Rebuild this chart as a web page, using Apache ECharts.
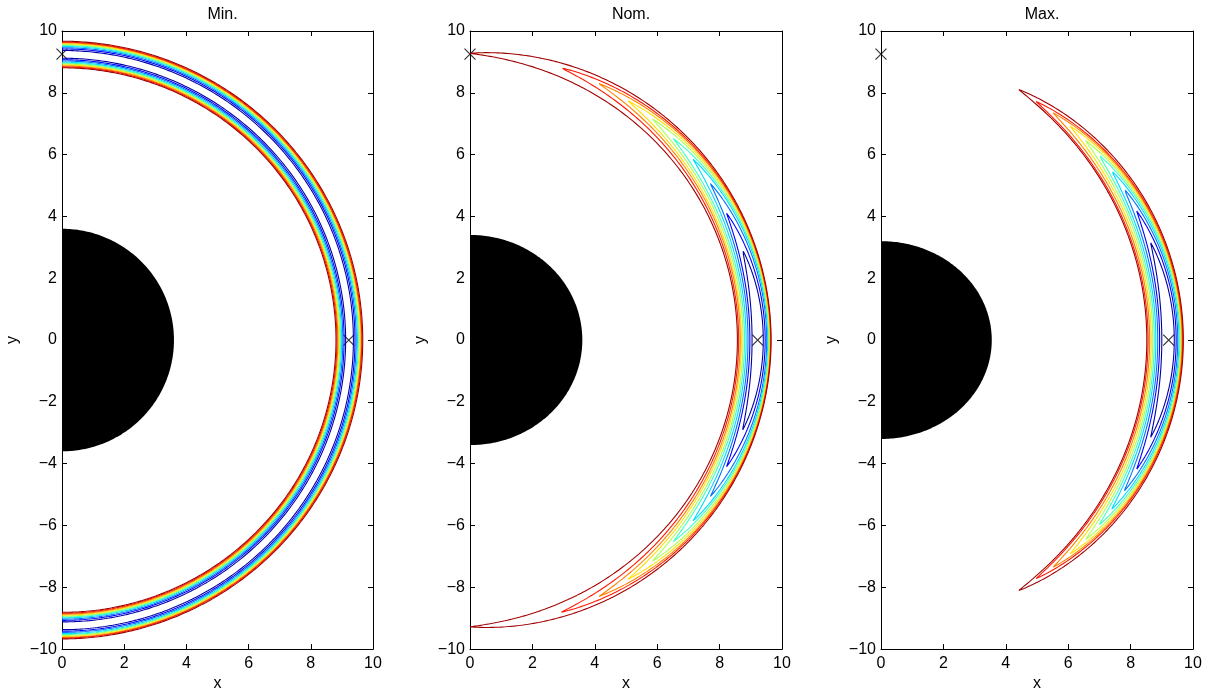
<!DOCTYPE html>
<html><head><meta charset="utf-8">
<script src="https://cdn.jsdelivr.net/npm/echarts@6/dist/echarts.min.js"></script>
<style>html,body{margin:0;padding:0;background:#fff}#c{width:1210px;height:697px}</style>
</head><body><div id="c"></div>
<script>
// ---------- data ----------
const panelTitles = ['Min.', 'Nom.', 'Max.'];
const xTicks = [0, 2, 4, 6, 8, 10];
const yTicks = [-10, -8, -6, -4, -2, 0, 2, 4, 6, 8, 10];
// contour levels, lowest (innermost) to highest (outermost), jet colours
const levelColors = ['#0000a8', '#0000ff', '#0070ff', '#00d8ff', '#40ffc0', '#a8ff58', '#ffe000', '#ff8000', '#ff1800', '#a00000'];
// Min.: every level is a pair of circular arcs (radius)
const minInnerR = [9.12, 9.07, 9.03, 8.99, 8.96, 8.93, 8.90, 8.87, 8.84, 8.81];
const minOuterR = [9.37, 9.42, 9.46, 9.50, 9.53, 9.56, 9.59, 9.62, 9.64, 9.67];
// Nom.: crescents - inner/outer radius on the x axis, tip angle (deg), tip radius
const nomInnerR = [9.04, 8.97, 8.91, 8.85, 8.80, 8.75, 8.70, 8.66, 8.61, 8.57];
const nomOuterR = [9.40, 9.46, 9.51, 9.54, 9.57, 9.59, 9.61, 9.63, 9.64, 9.65];
const nomTipDeg = [18.4, 26.5, 33.3, 39.3, 45.0, 50.7, 56.8, 63.5, 71.6, 90.0];
const nomTipR   = [9.21, 9.19, 9.22, 9.24, 9.22, 9.24, 9.25, 9.27, 9.28, 9.28];
// Max.: crescents
const maxInnerR = [9.00, 8.93, 8.87, 8.81, 8.76, 8.71, 8.66, 8.61, 8.56, 8.52];
const maxOuterR = [9.40, 9.46, 9.51, 9.55, 9.58, 9.61, 9.63, 9.65, 9.67, 9.69];
const maxTipDeg = [20.0, 27.0, 32.0, 36.5, 40.5, 44.5, 48.8, 53.1, 57.2, 61.4];
const maxTipR   = [9.20, 9.20, 9.20, 9.20, 9.20, 9.20, 9.20, 9.19, 9.18, 9.23];
// black half-ellipse (semi-axes along x and y)
const discRx = [3.6, 3.6, 3.55];
const discRy = [3.6, 3.4, 3.2];
// "x" markers
const markerX = [0, 9.22];
const markerY = [9.25, 0];

// ---------- layout ----------
const grids = [
  {left: 62, top: 31, width: 311, height: 621},
  {left: 470, top: 31, width: 312, height: 621},
  {left: 881, top: 31, width: 312, height: 621}
];
const FONT = 'Liberation Sans, Arial, Helvetica, sans-serif';
const rad = d => d * Math.PI / 180;

function arc(r) {
  const pts = [];
  for (let d = -90; d <= 90; d += 0.5) pts.push([r * Math.cos(rad(d)), r * Math.sin(rad(d))]);
  return pts;
}
// width profile of a crescent along its angle
function shape(d, tip) {
  const u = Math.min(1, Math.abs(d) / tip);
  return Math.pow(Math.max(0, 1 - u * u), 0.9);
}
function crescent(rIn, rOut, tip, rt) {
  const outer = [], inner = [];
  const n = Math.max(120, Math.round(tip * 8));
  for (let i = 0; i <= n; i++) {
    const d = -tip + 2 * tip * i / n;
    const s = shape(d, tip);
    const ro = rt + (rOut - rt) * s, ri = rt - (rt - rIn) * s;
    outer.push([ro * Math.cos(rad(d)), ro * Math.sin(rad(d))]);
    inner.push([ri * Math.cos(rad(d)), ri * Math.sin(rad(d))]);
  }
  return outer.concat(inner.reverse(), [outer[0]]);
}
function halfEllipse(rx, ry) {
  const pts = [];
  for (let d = -90; d <= 90; d += 1) pts.push([rx * Math.cos(rad(d)), ry * Math.sin(rad(d))]);
  return pts;
}

const fmt = v => (v < 0 ? '\u2212' + (-v) : String(v));
const xAxis = [], yAxis = [], series = [], title = [];
grids.forEach((g, i) => {
  const common = {
    gridIndex: i, type: 'value', splitLine: {show: false},
    axisLine: {show: true, onZero: false, lineStyle: {color: '#000', width: 1}},
    axisTick: {show: true, inside: true, length: 5, lineStyle: {color: '#000'}}
  };
  const lab = {show: true, color: '#000', fontSize: 16, fontFamily: FONT, formatter: fmt};
  xAxis.push(Object.assign({}, common, {position: 'bottom', min: xTicks[0], max: xTicks[xTicks.length - 1], interval: 2,
    axisLabel: Object.assign({margin: 6}, lab), name: 'x', nameLocation: 'middle', nameGap: 24,
    nameTextStyle: {color: '#000', fontSize: 16, fontFamily: FONT}}));
  xAxis.push(Object.assign({}, common, {position: 'top', min: 0, max: 10, interval: 2, axisLabel: {show: false}}));
  yAxis.push(Object.assign({}, common, {position: 'left', min: yTicks[0], max: yTicks[yTicks.length - 1], interval: 2,
    axisLabel: Object.assign({margin: 5}, lab), name: 'y', nameLocation: 'middle', nameGap: 41,
    nameTextStyle: {color: '#000', fontSize: 16, fontFamily: FONT}}));
  yAxis.push(Object.assign({}, common, {position: 'right', min: -10, max: 10, interval: 2, axisLabel: {show: false}}));
  title.push({text: panelTitles[i], left: g.left + g.width / 2, top: 2, textAlign: 'center',
    textStyle: {color: '#000', fontSize: 16, fontWeight: 'normal', fontFamily: FONT}});

  const xi = 2 * i, yi = 2 * i;
  const disc = halfEllipse(discRx[i], discRy[i]);
  series.push({type: 'custom', xAxisIndex: xi, yAxisIndex: yi, silent: true, data: [[0, 0]],
    renderItem: (p, api) => ({type: 'polygon', shape: {points: disc.map(q => api.coord(q))}, style: {fill: '#000'}})});

  const lines = [];
  if (i === 0) {
    levelColors.forEach((c, k) => {
      lines.push({data: arc(minInnerR[k]), color: c});
      lines.push({data: arc(minOuterR[k]), color: c});
    });
  } else {
    const ri = i === 1 ? nomInnerR : maxInnerR, ro = i === 1 ? nomOuterR : maxOuterR;
    const tp = i === 1 ? nomTipDeg : maxTipDeg, tr = i === 1 ? nomTipR : maxTipR;
    levelColors.forEach((c, k) => lines.push({data: crescent(ri[k], ro[k], tp[k], tr[k]), color: c}));
  }
  lines.forEach(l => series.push({type: 'line', xAxisIndex: xi, yAxisIndex: yi, data: l.data, showSymbol: false,
    symbol: 'none', smooth: false, silent: true, lineStyle: {color: l.color, width: 1.1}, clip: true}));

  series.push({type: 'scatter', xAxisIndex: xi, yAxisIndex: yi, clip: false, silent: true,
    data: markerX.map((x, j) => [x, markerY[j]]),
    symbol: 'path://M0,0L10,10M10,0L0,10', symbolSize: 11,
    itemStyle: {color: 'rgba(0,0,0,0)', borderColor: '#000', borderWidth: 1.2}});
});

const chart = echarts.init(document.getElementById('c'), null, {renderer: 'canvas'});
chart.setOption({animation: false, backgroundColor: '#fff', title, grid: grids, xAxis, yAxis, series});
</script></body></html>
